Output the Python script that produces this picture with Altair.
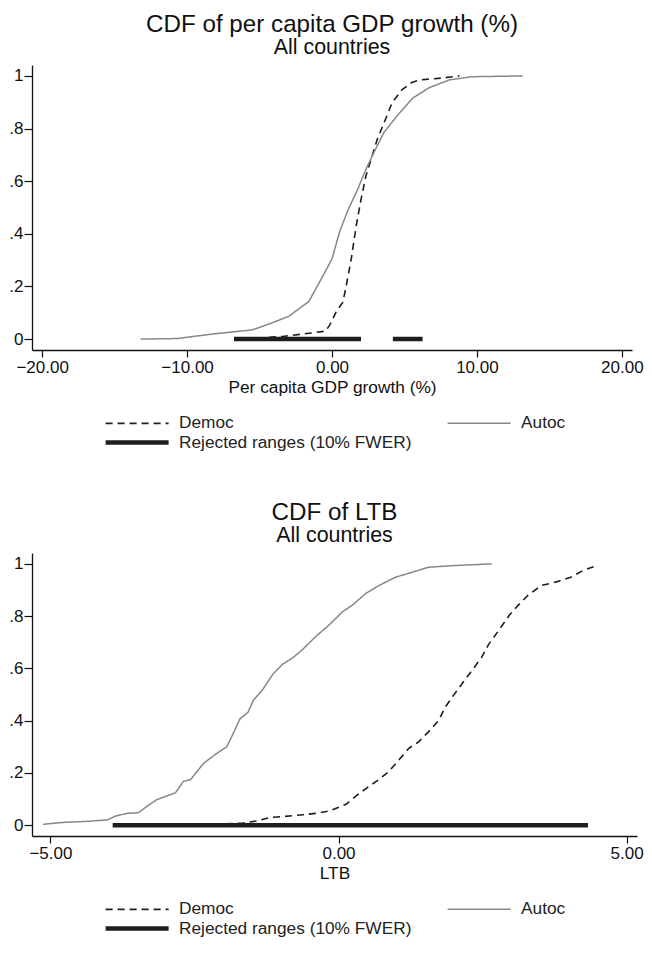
import altair as alt
import pandas as pd

SERIES = ["Democ", "Autoc", "Rejected ranges (10% FWER)"]

# ---- Panel 1: per capita GDP growth (%) ----
gdp_democ_x = [-6.0, -3.4, -1.6, -0.45, -0.15, 0.3, 0.75, 0.99, 1.33, 1.67, 2.0, 2.34,
               2.68, 3.13, 3.58, 4.14, 4.82, 5.5, 6.06, 7.6, 8.8]
gdp_democ_y = [0.0, 0.01, 0.022, 0.03, 0.054, 0.105, 0.14, 0.205, 0.305, 0.43, 0.53, 0.62,
               0.68, 0.76, 0.82, 0.897, 0.947, 0.975, 0.985, 0.992, 1.0]
gdp_autoc_x = [-13.2, -10.7, -8.1, -5.5, -4.3, -2.97, -1.6, -0.47, 0.0, 0.54, 1.1, 1.78,
               2.34, 2.9, 3.58, 4.47, 5.6, 6.7, 8.1, 9.66, 13.15]
gdp_autoc_y = [0.0, 0.002, 0.02, 0.035, 0.058, 0.087, 0.143, 0.256, 0.305, 0.41, 0.49, 0.57,
               0.645, 0.71, 0.785, 0.847, 0.917, 0.955, 0.985, 0.997, 1.0]
gdp_rej_start = [-6.76, 4.2]
gdp_rej_end = [2.0, 6.25]

# ---- Panel 2: LTB ----
ltb_democ_x = [-3.0, -2.09, -1.66, -1.42, -1.2, -0.85, -0.62, -0.39, -0.16, 0.13, 0.3, 0.53,
               0.7, 0.87, 1.05, 1.22, 1.39, 1.56, 1.74, 1.85, 1.97, 2.14, 2.31, 2.48, 2.6,
               2.77, 2.97, 3.12, 3.29, 3.52, 3.8, 4.03, 4.24, 4.44]
ltb_democ_y = [0.0, 0.004, 0.008, 0.016, 0.029, 0.035, 0.04, 0.045, 0.054, 0.08, 0.111, 0.149,
               0.174, 0.205, 0.25, 0.294, 0.319, 0.357, 0.401, 0.451, 0.489, 0.54, 0.59, 0.641,
               0.69, 0.742, 0.805, 0.842, 0.88, 0.917, 0.932, 0.949, 0.974, 0.99]
ltb_autoc_x = [-5.13, -4.82, -4.41, -4.01, -3.87, -3.67, -3.47, -3.32, -3.15, -2.83, -2.69,
               -2.57, -2.34, -2.11, -1.94, -1.83, -1.71, -1.57, -1.48, -1.31, -1.14, -0.97,
               -0.79, -0.62, -0.39, -0.16, 0.07, 0.24, 0.47, 0.7, 0.99, 1.28, 1.56, 1.97, 2.66]
ltb_autoc_y = [0.003, 0.01, 0.014, 0.02, 0.035, 0.045, 0.048, 0.073, 0.098, 0.124, 0.168,
               0.174, 0.237, 0.275, 0.3, 0.35, 0.407, 0.432, 0.477, 0.521, 0.578, 0.616,
               0.641, 0.673, 0.723, 0.767, 0.817, 0.842, 0.886, 0.917, 0.949, 0.968, 0.987,
               0.993, 1.0]
ltb_rej_start = [-3.92]
ltb_rej_end = [4.33]


def build(dx, dy, ax, ay, rs, re):
    rows = []
    for x, y in zip(dx, dy):
        rows.append({"x": x, "y": y, "series": SERIES[0], "seg": "d", "o": len(rows)})
    for x, y in zip(ax, ay):
        rows.append({"x": x, "y": y, "series": SERIES[1], "seg": "a", "o": len(rows)})
    for i, (s, e) in enumerate(zip(rs, re)):
        rows.append({"x": s, "y": 0.0, "series": SERIES[2], "seg": f"r{i}", "o": len(rows)})
        rows.append({"x": e, "y": 0.0, "series": SERIES[2], "seg": f"r{i}", "o": len(rows)})
    return pd.DataFrame(rows)


FONT = "Liberation Sans"


def panel(df, title, xtitle, xdomain, xticks, width, height):
    leg = alt.Legend(
        title=None, orient="none", legendX=71, legendY=height + 64,
        columns=2, columnPadding=32, rowPadding=0,
        symbolType="M-1,0L7,0", symbolSize=248,
        labelFontSize=17.3, labelFont=FONT, labelColor="#222222",
        labelOffset=55, labelLimit=400, padding=0, direction="horizontal",
    )
    return alt.Chart(df).mark_line(clip=True).encode(
        x=alt.X("x:Q", scale=alt.Scale(domain=xdomain, nice=False, zero=False),
                axis=alt.Axis(values=xticks, format=".2f", title=xtitle, grid=False,
                              tickSize=7, labelPadding=2, titlePadding=3)),
        y=alt.Y("y:Q", scale=alt.Scale(domain=[-0.0415, 1.0415], nice=False, zero=False),
                axis=alt.Axis(values=[0, 0.2, 0.4, 0.6, 0.8, 1], title=None, grid=False,
                              tickSize=8, labelPadding=1,
                              labelExpr="datum.value == 0 ? '0' : datum.value == 1 ? '1' : '.' + round(datum.value * 10)")),
        color=alt.Color("series:N", scale=alt.Scale(domain=SERIES, range=["#1e1e1e", "#878787", "#1e1e1e"]), legend=leg),
        strokeDash=alt.StrokeDash("series:N", scale=alt.Scale(domain=SERIES, range=[[7, 5], [1, 0], [1, 0]]), legend=leg),
        strokeWidth=alt.StrokeWidth("series:N", scale=alt.Scale(type="ordinal", domain=SERIES, range=[1.6, 1.5, 4.5]), legend=leg),
        detail="seg:N",
        order="o:Q",
    ).properties(
        width=width, height=height,
        title=alt.TitleParams(text=title, subtitle="All countries", fontSize=24.2,
                              subtitleFontSize=21.4, font=FONT, subtitleFont=FONT,
                              fontWeight="normal", color="#111111", subtitleColor="#111111",
                              anchor="middle", frame="group", offset=6.5, subtitlePadding=0),
    )


p1 = panel(build(gdp_democ_x, gdp_democ_y, gdp_autoc_x, gdp_autoc_y, gdp_rej_start, gdp_rej_end),
           "CDF of per capita GDP growth (%)", "Per capita GDP growth (%)",
           [-20.7, 20.7], [-20, -10, 0, 10, 20], 600, 285)
p2 = panel(build(ltb_democ_x, ltb_democ_y, ltb_autoc_x, ltb_autoc_y, ltb_rej_start, ltb_rej_end),
           "CDF of LTB", "LTB", [-5.32, 5.18], [-5, 0, 5], 605, 283)

chart = alt.vconcat(p1, p2, spacing=48).resolve_scale(
    x="independent", y="independent", color="independent",
    strokeDash="independent", strokeWidth="independent",
).resolve_legend(
    color="independent", strokeDash="independent", strokeWidth="independent",
).configure(
    padding={"left": 0, "top": 4, "right": 0, "bottom": 0},
).configure_view(stroke=None).configure_axis(
    labelFont=FONT, titleFont=FONT, labelFontSize=17, titleFontSize=17.3,
    labelColor="#111111", titleColor="#111111", titleFontWeight="normal",
    domainColor="#111111", tickColor="#111111", domainWidth=1.3, tickWidth=1.2,
)

chart.save("out.html", embed_options={"renderer": "svg", "actions": False})
